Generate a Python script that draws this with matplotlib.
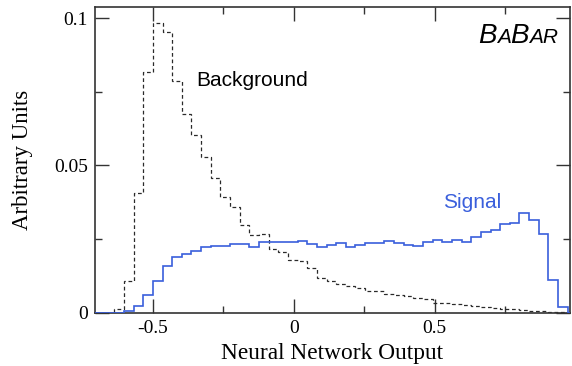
import numpy as np
import matplotlib
matplotlib.use('Agg')
import matplotlib.pyplot as plt
from matplotlib.ticker import MultipleLocator
from matplotlib.offsetbox import TextArea, HPacker, AnchoredOffsetbox

# histogram binning (50 bins)
bin_lo, bin_hi, nbins = -0.7055, 1.007, 50

# normalised NN output distributions, one value per bin
background = [0.0, 0.0, 0.0012, 0.0109, 0.0408, 0.0819, 0.0985, 0.0952, 0.0787, 0.0676,
              0.0604, 0.0530, 0.0459, 0.0394, 0.0360, 0.0298, 0.0264, 0.0268, 0.0215, 0.0206,
              0.0179, 0.0175, 0.0151, 0.0119, 0.0108, 0.0097, 0.0092, 0.0084, 0.0075, 0.0073,
              0.0063, 0.0059, 0.0057, 0.0050, 0.0047, 0.0033, 0.0032, 0.0029, 0.0025, 0.0022,
              0.0018, 0.0016, 0.0013, 0.0011, 0.0009, 0.0007, 0.0005, 0.0003, 0.0002, 0.0001]

signal = [0.0, 0.0, 0.0, 0.0006, 0.0024, 0.0061, 0.0109, 0.0159, 0.0188, 0.0201,
          0.0210, 0.0224, 0.0226, 0.0228, 0.0233, 0.0233, 0.0224, 0.0239, 0.0239, 0.0240,
          0.0241, 0.0242, 0.0232, 0.0222, 0.0230, 0.0236, 0.0222, 0.0230, 0.0236, 0.0236,
          0.0245, 0.0238, 0.0230, 0.0228, 0.0240, 0.0246, 0.0241, 0.0247, 0.0241, 0.0258,
          0.0275, 0.0281, 0.0302, 0.0304, 0.0338, 0.0315, 0.0266, 0.0111, 0.0021, 0.0]

xticks = [-0.5, 0, 0.5]
xticklabels = ['-0.5', '0', '0.5']
yticks = [0, 0.05, 0.1]
yticklabels = ['0', '0.05', '0.1']

edges = np.linspace(bin_lo, bin_hi, nbins + 1)

blue = '#3a5fdc'
axcol = '#333333'
serif = 'Liberation Serif'
sans = 'Liberation Sans'

fig = plt.figure(figsize=(5.72, 3.66), dpi=100)
ax = fig.add_axes([95/572, 1 - 312.7/366, 475/572, 305.4/366])

ax.stairs(background, edges, color='#2a2a2a', lw=0.9, ls=(0, (3.0, 2.2)), zorder=2)
ax.stairs(signal, edges, color=blue, lw=1.2, zorder=3)

ax.set_xlim(-0.7055, 0.981)
ax.set_ylim(0, 0.1037)

ax.set_xticks(xticks)
ax.set_xticklabels(xticklabels)
ax.set_yticks(yticks)
ax.set_yticklabels(yticklabels)
ax.xaxis.set_minor_locator(MultipleLocator(0.25))
ax.yaxis.set_minor_locator(MultipleLocator(0.025))

ax.tick_params(which='both', direction='in', top=True, right=True, color=axcol, width=1.0)
ax.tick_params(which='major', length=10)
ax.tick_params(which='minor', length=5)
ax.tick_params(axis='x', pad=5)
ax.tick_params(axis='y', pad=5)
for lab in ax.get_xticklabels() + ax.get_yticklabels():
    lab.set_fontfamily(serif)
    lab.set_fontsize(14)
for sp in ax.spines.values():
    sp.set_color(axcol)
    sp.set_linewidth(1.2)

ax.set_xlabel('Neural Network Output', fontfamily=serif, fontsize=16.8)
ax.set_ylabel('Arbitrary Units', fontfamily=serif, fontsize=16.5)
ax.xaxis.set_label_coords(0.5, -0.1)
ax.yaxis.set_label_coords(-0.13, 0.5)

ax.text(-0.347, 0.077, 'Background', fontfamily=sans, fontsize=15, color='black')
ax.text(0.531, 0.0356, 'Signal', fontfamily=sans, fontsize=15, color=blue)

# BaBar logo in small caps
parts = [('B', 20), ('A', 15), ('B', 20), ('AR', 15)]
kids = [TextArea(s, textprops=dict(fontsize=sz, style='italic', fontfamily=sans, color='black'))
        for s, sz in parts]
logo = HPacker(children=kids, align='baseline', pad=0, sep=0)
ab = AnchoredOffsetbox(loc='upper right', child=logo, pad=0, borderpad=0, frameon=False,
                       bbox_to_anchor=(0.975, 0.95), bbox_transform=ax.transAxes)
ax.add_artist(ab)

fig.savefig('out.png', dpi=100)
